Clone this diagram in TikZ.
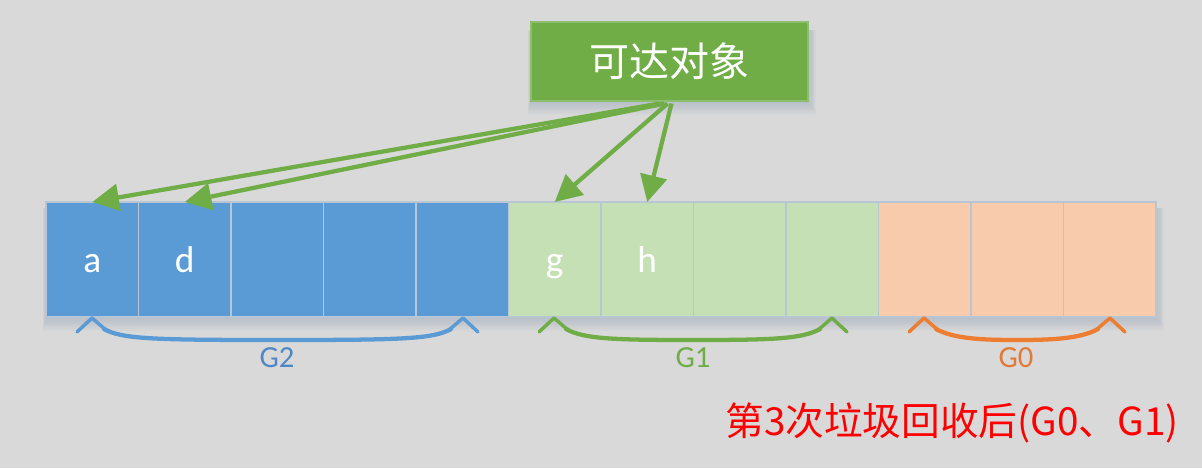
\documentclass[tikz,border=0pt]{standalone}
\usepackage{fontspec}
\setmainfont{Carlito}
\newfontfamily\cjk{Noto Sans CJK SC}
\usetikzlibrary{arrows.meta,calc}
\definecolor{bgc}{HTML}{D9D9D9}
\definecolor{cblue}{HTML}{5B9BD5}
\definecolor{cgreenl}{HTML}{C5E0B4}
\definecolor{corangel}{HTML}{F8CBAD}
\definecolor{cgreen}{HTML}{70AD47}
\definecolor{corange}{HTML}{ED7D31}
\definecolor{cblueT}{HTML}{4F88C6}
\definecolor{corangeT}{HTML}{E07A36}
\definecolor{cellline}{HTML}{B8C6D4}
\definecolor{shadowc}{HTML}{4A6A96}
\newcommand\genbrace[3]{%
  \draw[#1,line width=2.6pt,line join=round,line cap=round]
    ({#2-15},332) -- (#2,318) -- ({#2+14},330);
  \draw[#1,line width=2.6pt,line join=round,line cap=round]
    ({#3-14},330) -- (#3,318) -- ({#3+15},332);
  \draw[#1,line width=3.2pt,line cap=round]
    ({#2+12},329)
    .. controls ({#2+30},339) and ({#2+60},340) .. ({(#2+#3)/2},340)
    .. controls ({#3-60},340) and ({#3-30},339) .. ({#3-12},329);}
\begin{document}
\begin{tikzpicture}[x=0.75pt,y=-0.75pt,
  cell/.style={draw=cellline,line width=1.1pt,inner sep=0pt,outer sep=0pt,
    minimum width=69.375pt,minimum height=86.25pt,text=white,
    font=\fontsize{28}{30}\selectfont,text height=18.75pt,text depth=0pt},
  arr/.style={cgreen,line width=3.2pt,-{Triangle[length=20pt,width=20pt]}},
  glabel/.style={font=\fontsize{23}{26}\selectfont}]
\useasboundingbox (0,0) rectangle (1202,468);
\fill[bgc] (0,0) rectangle (1202,468);
% soft shadows
\foreach \i in {1,...,7}{
  \fill[shadowc,opacity=0.03] ({46-\i*0.5},208) rectangle ({1156+\i*1.2},{317+\i*2});
  \fill[shadowc,opacity=0.03] ({531-\i*0.5},30) rectangle ({808+\i*1.2},{101+\i*2});
}
% cells
\node[cell,fill=cblue] (c1) at (92.25,259.5) {a};
\node[cell,fill=cblue] (c2) at (184.75,259.5) {d};
\node[cell,fill=cblue] (c3) at (277.25,259.5) {};
\node[cell,fill=cblue] (c4) at (369.75,259.5) {};
\node[cell,fill=cblue] (c5) at (462.25,259.5) {};
\node[cell,fill=cgreenl] (c6) at (554.75,259.5) {g};
\node[cell,fill=cgreenl] (c7) at (647.25,259.5) {h};
\node[cell,fill=cgreenl] (c8) at (739.75,259.5) {};
\node[cell,fill=cgreenl] (c9) at (832.25,259.5) {};
\node[cell,fill=corangel] (c10) at (924.75,259.5) {};
\node[cell,fill=corangel] (c11) at (1017.25,259.5) {};
\node[cell,fill=corangel] (c12) at (1109.75,259.5) {};
% reachable box
\node[fill=cgreen,draw={rgb,255:red,140;green,190;blue,110},line width=0.8pt,
  minimum width=207.75pt,minimum height=59.25pt,inner sep=0pt,text=white,
  font=\cjk\fontsize{30}{32}\selectfont] (reach) at (669.5,61.5) {可达对象};
% arrows
\draw[arr] ($(reach.south)+(-10,2)$) -- (c1.north);
\draw[arr] ($(reach.south)+(-5,2)$) -- (c2.north);
\draw[arr] ($(reach.south)+(-2,2)$) -- (c6.north);
\draw[arr] ($(reach.south)+(2,2)$) -- (c7.north);
% braces
\genbrace{cblue}{92}{463}
\genbrace{cgreen}{554}{832}
\genbrace{corange}{924}{1110}
\node[glabel,text=cblueT] (g2) at (277,358) {G2};
\node[glabel,text=cgreen] (g1) at (693,358) {G1};
\node[glabel,text=corangeT] (g0) at (1016,358) {G0};
% caption
\node[text=red,font=\cjk\fontsize{29}{31}\selectfont] (cap) at (952,423) {第3次垃圾回收后(G0、G1)};
\end{tikzpicture}
\end{document}
